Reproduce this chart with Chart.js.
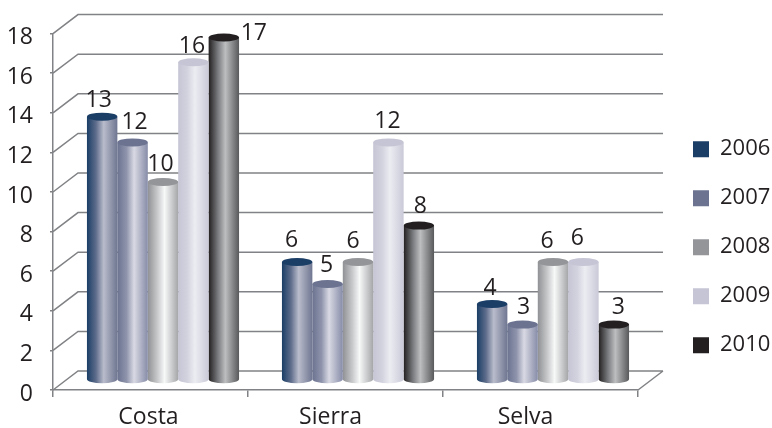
<!DOCTYPE html>
<html>
<head>
<meta charset="utf-8">
<script src="https://cdn.jsdelivr.net/npm/chart.js@4"></script>
<style>
    html, body { margin: 0; padding: 0; background: #ffffff; }
    canvas { display: block; }
</style>
</head>
<body>
<canvas id="chart" width="772" height="428"></canvas>
<script>
// Data, bar heights
const regions = ['Costa', 'Sierra', 'Selva'];
const years = ['2006', '2007', '2008', '2009', '2010'];
const yearTicks = [0, 2, 4, 6, 8, 10, 12, 14, 16, 18];
const v2006 = [13.3, 5.96, 3.84];
const v2007 = [12, 4.85, 2.8];
const v2008 = [10, 5.96, 5.96];
const v2009 = [16.05, 12, 5.96];
const v2010 = [17.3, 7.8, 2.8];

// Colours
const capColors = ['#1a3e66', '#6b7390', '#939598', '#c5c5d5', '#231f20'];
const shades = [
    ['#1a3e66', '#5f6d8c', '#b9bccb', '#6f7691'],
    ['#6b7390', '#8f94ac', '#d8d9e3', '#878ca8'],
    ['#8f9194', '#c4c6c8', '#f7f8f8', '#a4a6a8'],
    ['#c5c5d5', '#d3d3df', '#ecedf2', '#c9c9d8'],
    ['#231f20', '#77797c', '#bcbec0', '#58595b']
];
const textColor = '#231f20';
const lineColor = '#808285';
const fontFamily = "'Open Sans', sans-serif";

// 3D offsets
const wallX = 25, wallY = 19;
const barLift = { x: 12.5, y: 10 };
const capRy = 4;
const catLabelShift = [-2, -15, -15];

// Value labels were placed by hand in the original: offset from the bar's top centre
const labelDx = [[-3.5, -5.5, -2], [2, -1, 1], [-2.5, -5, -6], [-1.5, -1, -6], [30, 1.5, 4.5]];
const labelGap = [[16, 22, 16], [20, 19, 17], [18, 21, 21], [16, 21, 24], [4, 19, 17]];

const wallsPlugin = {
    id: 'walls',
    beforeDatasetsDraw(chart) {
        const { ctx, scales: { x, y } } = chart;
        ctx.save();
        ctx.strokeStyle = lineColor;
        ctx.lineWidth = 1.5;
        ctx.beginPath();
        yearTicks.forEach(t => {
            const py = y.getPixelForValue(t);
            ctx.moveTo(x.left, py);
            ctx.lineTo(x.left + wallX, py - wallY);
            ctx.lineTo(x.right + wallX, py - wallY);
        });
        const base = y.getPixelForValue(0);
        ctx.moveTo(x.right, base);
        ctx.lineTo(x.right + wallX, base - wallY);
        ctx.stroke();
        ctx.restore();
    }
};

// Replaces the flat bars with cylinders, still placed by the bar elements
const cylinderPlugin = {
    id: 'cylinders',
    beforeDatasetDraw(chart, args) {
        const { ctx } = chart;
        const i = args.index;
        ctx.save();
        args.meta.data.forEach(el => {
            const left = el.x - el.width / 2 + barLift.x;
            const right = left + el.width;
            const rx = el.width / 2;
            const cx = left + rx;
            const top = el.y - barLift.y;
            const bottom = el.base - barLift.y;
            const g = ctx.createLinearGradient(left, 0, right, 0);
            g.addColorStop(0, shades[i][0]);
            g.addColorStop(0.3, shades[i][1]);
            g.addColorStop(0.55, shades[i][2]);
            g.addColorStop(1, shades[i][3]);
            ctx.fillStyle = g;
            ctx.beginPath();
            ctx.moveTo(left, top);
            ctx.lineTo(left, bottom);
            ctx.ellipse(cx, bottom, rx, capRy, 0, Math.PI, 0, true);
            ctx.lineTo(right, top);
            ctx.closePath();
            ctx.fill();
            ctx.fillStyle = capColors[i];
            ctx.beginPath();
            ctx.ellipse(cx, top, rx, capRy, 0, 0, Math.PI * 2);
            ctx.fill();
        });
        ctx.restore();
        return false;
    },
    afterDatasetsDraw(chart) {
        const { ctx } = chart;
        ctx.save();
        ctx.fillStyle = textColor;
        ctx.font = '23px ' + fontFamily;
        ctx.textAlign = 'center';
        ctx.textBaseline = 'middle';
        chart.data.datasets.forEach((ds, i) => {
            chart.getDatasetMeta(i).data.forEach((el, j) => {
                const px = el.x + barLift.x + labelDx[i][j];
                const py = el.y - barLift.y - labelGap[i][j];
                ctx.fillText(String(Math.round(ds.data[j])), px, py);
            });
        });
        ctx.restore();
    }
};

// Places legend and nudges the axis labels as in the original
const placementPlugin = {
    id: 'placement',
    afterLayout(chart) {
        const lg = chart.legend;
        const w = lg.right - lg.left, h = lg.bottom - lg.top;
        lg.left = 666; lg.right = 666 + w;
        lg.top = 69; lg.bottom = 69 + h;
    },
    beforeDraw(chart) {
        if (chart.$labelsMoved) return;
        chart.scales.x.getLabelItems(chart.chartArea).forEach((item, i) => {
            item.options.translation[0] += catLabelShift[i];
        });
        chart.scales.y.getLabelItems(chart.chartArea).forEach(item => {
            item.options.translation[1] += 4;
        });
        chart.$labelsMoved = true;
    }
};

const seriesValues = [v2006, v2007, v2008, v2009, v2010];

new Chart(document.getElementById('chart').getContext('2d'), {
    type: 'bar',
    data: {
        labels: regions,
        datasets: years.map((year, i) => ({
            label: year,
            data: seriesValues[i],
            backgroundColor: capColors[i],
            borderWidth: 0,
            categoryPercentage: 0.78,
            barPercentage: 1
        }))
    },
    options: {
        responsive: false,
        animation: false,
        layout: { padding: { top: 33.6, right: 134, left: 0, bottom: 0 } },
        scales: {
            x: {
                afterFit(scale) { scale.height = 38; },
                border: { color: lineColor, width: 1.5 },
                grid: { offset: true, drawOnChartArea: false, color: lineColor, tickLength: 7, lineWidth: 1.5 },
                ticks: { color: textColor, padding: 7, maxRotation: 0, font: { family: fontFamily, size: 23 } }
            },
            y: {
                min: 0,
                max: 18,
                afterFit(scale) { scale.width = 53; },
                afterBuildTicks(scale) { scale.ticks = yearTicks.map(value => ({ value })); },
                border: { color: lineColor, width: 1.5 },
                grid: { drawOnChartArea: false, color: lineColor, tickLength: 3, lineWidth: 1.5 },
                ticks: { color: textColor, padding: 17, font: { family: fontFamily, size: 23 } }
            }
        },
        plugins: {
            legend: {
                position: 'chartArea',
                labels: {
                    boxWidth: 16,
                    boxHeight: 16,
                    padding: 27,
                    color: textColor,
                    font: { family: fontFamily, size: 22 }
                }
            },
            tooltip: { enabled: false }
        }
    },
    plugins: [wallsPlugin, cylinderPlugin, placementPlugin]
});
</script>
</body>
</html>
